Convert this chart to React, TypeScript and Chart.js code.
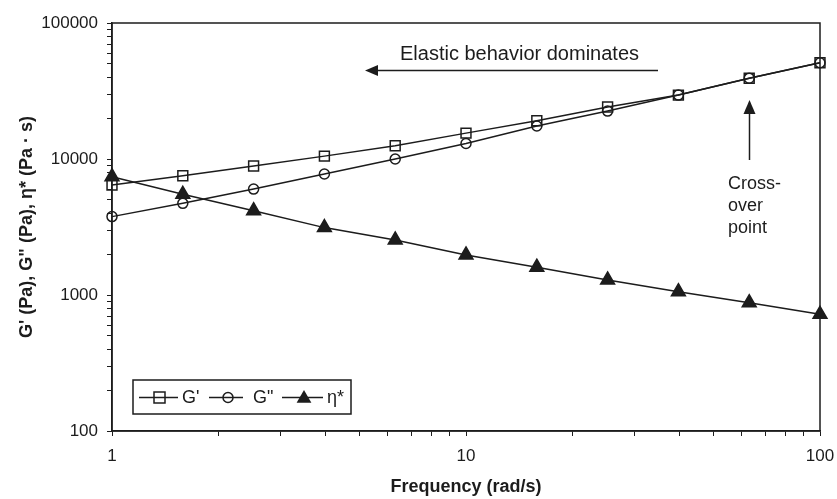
import React, { useEffect, useRef } from 'react';
import { Chart, registerables } from 'chart.js';

Chart.register(...registerables);

// ---- data ----
const frequency = [1, 1.585, 2.512, 3.981, 6.31, 10, 15.85, 25.12, 39.81, 63.1, 100];
const gPrime = [6440, 7540, 8890, 10500, 12500, 15500, 19100, 24100, 29500, 39200, 51000];
const gDouble = [3770, 4720, 6010, 7760, 10000, 13000, 17500, 22500, 29500, 39300, 51000];
const etaStar = [7410, 5500, 4170, 3130, 2540, 1970, 1600, 1290, 1057, 878, 721];
const seriesLabels = ["G'", 'G"', 'η*'];
const xLabelValues = [1, 10, 100];
const yLabelValues = [100, 1000, 10000, 100000];
const xAxisTitle = 'Frequency (rad/s)';
const yAxisTitle = 'G\' (Pa), G" (Pa), η* (Pa · s)';
const elasticNote = 'Elastic behavior dominates';
const crossNote = ['Cross-', 'over', 'point'];

const INK = '#1c1c1c';
const FONT = "'Liberation Sans', Arial, sans-serif";

function logTicks(lo: number, hi: number): number[] {
  const out: number[] = [];
  for (let d = lo; d < hi; d *= 10) {
    for (let m = 1; m <= 9; m++) out.push(Math.round(d * m * 1000) / 1000);
  }
  out.push(hi);
  return out;
}

const annotationPlugin = {
  id: 'annotations',
  afterDraw(chart: any) {
    const { ctx, chartArea } = chart;
    ctx.save();
    // frame
    ctx.strokeStyle = INK;
    ctx.lineWidth = 1.5;
    ctx.strokeRect(chartArea.left, chartArea.top, chartArea.right - chartArea.left, chartArea.bottom - chartArea.top);

    // Elastic note + left arrow
    ctx.fillStyle = INK;
    ctx.font = `20px ${FONT}`;
    ctx.textBaseline = 'alphabetic';
    ctx.textAlign = 'left';
    ctx.fillText(elasticNote, 400, 60);
    ctx.beginPath();
    ctx.moveTo(374, 70.5);
    ctx.lineTo(658, 70.5);
    ctx.stroke();
    ctx.beginPath();
    ctx.moveTo(365, 70.5);
    ctx.lineTo(378, 65);
    ctx.lineTo(378, 76);
    ctx.closePath();
    ctx.fill();

    // Cross-over note + up arrow
    ctx.beginPath();
    ctx.moveTo(749.5, 110);
    ctx.lineTo(749.5, 160);
    ctx.stroke();
    ctx.beginPath();
    ctx.moveTo(749.5, 100);
    ctx.lineTo(743.5, 114);
    ctx.lineTo(755.5, 114);
    ctx.closePath();
    ctx.fill();
    ctx.font = `18px ${FONT}`;
    crossNote.forEach((t, i) => ctx.fillText(t, 728, 189 + i * 22));

    // legend
    const ly = 397.5;
    ctx.lineWidth = 1.5;
    ctx.strokeRect(133, 380, 218, 34);
    ctx.font = `18px ${FONT}`;
    ctx.textBaseline = 'middle';
    const items = [
      { x0: 139, x1: 178, style: 'rect', r: 5.5 },
      { x0: 209, x1: 243, style: 'circle', r: 5 },
      { x0: 282, x1: 323, style: 'triangle', r: 8.5 },
    ];
    const textX = [182, 253, 327];
    items.forEach((it, i) => {
      ctx.beginPath();
      ctx.moveTo(it.x0, ly);
      ctx.lineTo(it.x1, ly);
      ctx.stroke();
      const cx = (it.x0 + it.x1) / 2 + (i === 0 ? 1 : i === 1 ? 2 : 1.5);
      ctx.beginPath();
      if (it.style === 'rect') {
        ctx.rect(cx - it.r, ly - it.r, it.r * 2, it.r * 2);
        ctx.stroke();
      } else if (it.style === 'circle') {
        ctx.arc(cx, ly, it.r, 0, Math.PI * 2);
        ctx.stroke();
      } else {
        ctx.moveTo(cx, ly - it.r + 1);
        ctx.lineTo(cx + 0.866 * it.r, ly + 0.5 * it.r + 1);
        ctx.lineTo(cx - 0.866 * it.r, ly + 0.5 * it.r + 1);
        ctx.closePath();
        ctx.fill();
      }
      ctx.fillText(seriesLabels[i], textX[i], ly + 1);
    });
    ctx.restore();
  },
};

export default function App() {
  const ref = useRef<HTMLCanvasElement>(null);
  useEffect(() => {
    if (!ref.current) return;
    const common = {
      borderColor: INK,
      borderWidth: 1.5,
      pointBorderColor: INK,
      pointBorderWidth: 1.5,
      clip: false as any,
      tension: 0,
    };
    const chart = new Chart(ref.current, {
      type: 'line',
      data: {
        datasets: [
          {
            ...common,
            label: seriesLabels[0],
            data: frequency.map((f, i) => ({ x: f, y: gPrime[i] })),
            pointStyle: 'rect',
            pointRadius: 7,
            pointBackgroundColor: 'rgba(0,0,0,0)',
          },
          {
            ...common,
            label: seriesLabels[1],
            data: frequency.map((f, i) => ({ x: f, y: gDouble[i] })),
            pointStyle: 'circle',
            pointRadius: 5,
            pointBackgroundColor: 'rgba(0,0,0,0)',
          },
          {
            ...common,
            label: seriesLabels[2],
            data: frequency.map((f, i) => ({ x: f, y: etaStar[i] })),
            pointStyle: 'triangle',
            pointRadius: 8,
            pointBackgroundColor: INK,
          },
        ],
      },
      options: {
        responsive: true,
        maintainAspectRatio: false,
        animation: false,
        devicePixelRatio: 1,
        layout: { padding: { top: 23, right: 17, left: 0, bottom: 0 } },
        plugins: { legend: { display: false }, tooltip: { enabled: false } },
        scales: {
          x: {
            type: 'logarithmic',
            min: 1,
            max: 100,
            afterBuildTicks: (s: any) => {
              s.ticks = logTicks(1, 100).map((v) => ({ value: v }));
            },
            afterFit: (s: any) => {
              s.height = 68;
              s.paddingLeft = 0;
              s.paddingRight = 0;
            },
            ticks: {
              autoSkip: false,
              maxRotation: 0,
              padding: 10,
              color: INK,
              font: { family: FONT, size: 17 },
              callback: (v: any) => (xLabelValues.includes(Number(v)) ? String(v) : ''),
            },
            grid: { drawOnChartArea: false, drawTicks: true, tickLength: 5, color: INK, lineWidth: 1 },
            border: { display: true, color: INK, width: 1.5 },
            title: {
              display: true,
              text: xAxisTitle,
              color: INK,
              font: { family: FONT, size: 18, weight: 'bold' },
              padding: { top: 0, bottom: 1 },
            },
          },
          y: {
            type: 'logarithmic',
            min: 100,
            max: 100000,
            afterBuildTicks: (s: any) => {
              s.ticks = logTicks(100, 100000).map((v) => ({ value: v }));
            },
            afterFit: (s: any) => {
              s.width = 112;
              s.paddingTop = 0;
              s.paddingBottom = 0;
            },
            ticks: {
              autoSkip: false,
              padding: 9,
              color: INK,
              font: { family: FONT, size: 17 },
              callback: (v: any) => (yLabelValues.includes(Number(v)) ? String(v) : ''),
            },
            grid: { drawOnChartArea: false, drawTicks: true, tickLength: 5, color: INK, lineWidth: 1 },
            border: { display: true, color: INK, width: 1.5 },
            title: {
              display: true,
              text: yAxisTitle,
              color: INK,
              font: { family: FONT, size: 18, weight: 'bold' },
              padding: { top: 16, bottom: 0 },
            },
          },
        },
      },
      plugins: [annotationPlugin],
    });
    return () => chart.destroy();
  }, []);
  return (
    <div style={{ position: 'fixed', left: 0, top: 0, width: 837, height: 499, background: '#fff' }}>
      <canvas ref={ref} />
    </div>
  );
}
